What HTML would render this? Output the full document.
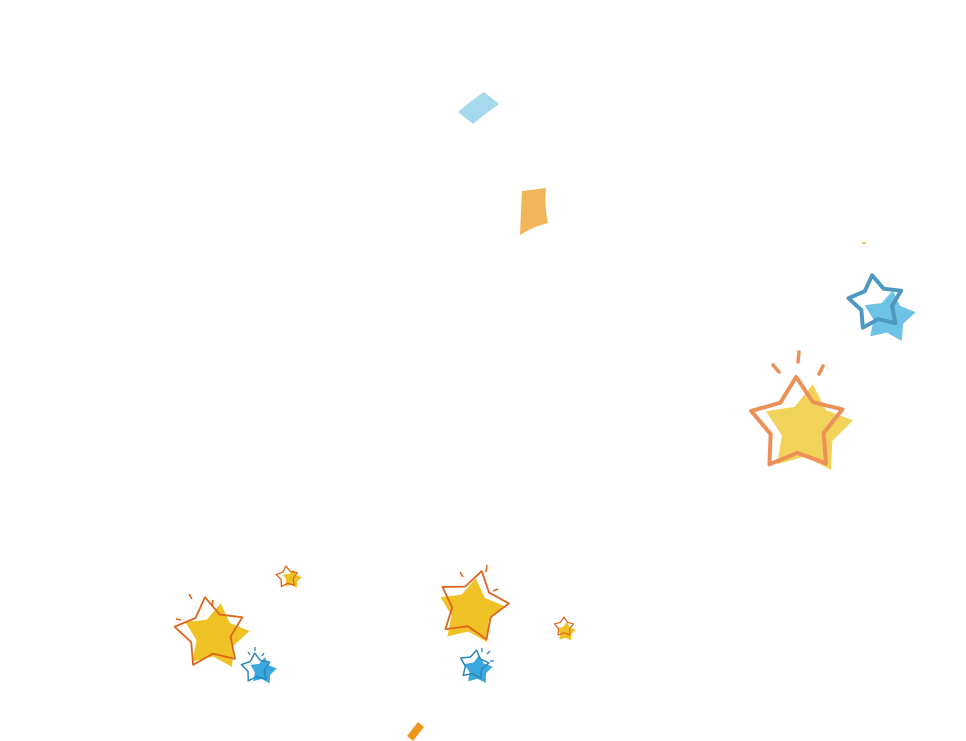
<!DOCTYPE html>
<html><head><meta charset="utf-8"><style>html,body{margin:0;padding:0;background:#fff;width:966px;height:741px;overflow:hidden}</style></head>
<body>
<svg width="966" height="741" viewBox="0 0 966 741" xmlns="http://www.w3.org/2000/svg">
<defs>
<polygon id="s" points="0,-1 0.341,-0.469 0.951,-0.309 0.552,0.179 0.588,0.809 0,0.58 -0.588,0.809 -0.552,0.179 -0.951,-0.309 -0.341,-0.469" stroke-linejoin="round"/>
</defs>
<path d="M458,112 Q472,100 484,92 L499,104 Q485,114 473,124 Z" fill="#a6d8ee"/>
<path d="M522,191 L546,188 Q544,205 548,223 Q532,227 520,235 Q521,212 522,191 Z" fill="#f3b55a"/>
<path d="M407,736 L418,722 L424,727 L413,741 Z" fill="#f0961c"/>
<rect x="862" y="242" width="4" height="2" fill="#f3c94a"/>

<use href="#s" transform="translate(808,430) rotate(6) scale(46)" fill="#f2d35a" stroke="none"/>
<use href="#s" transform="translate(797,425) rotate(-1) scale(48)" fill="none" stroke="#ec9058" stroke-width="0.083"/>
<g stroke="#ec9058" stroke-width="3.5" stroke-linecap="round"><line x1="799" y1="352" x2="798" y2="362"/><line x1="773" y1="365" x2="779" y2="372"/><line x1="823" y1="366" x2="819" y2="374"/></g>

<use href="#s" transform="translate(889,317) rotate(8) scale(27)" fill="#6cc3e6" stroke="none"/>
<use href="#s" transform="translate(876,303) rotate(-8) scale(28)" fill="none" stroke="#4d97c0" stroke-width="0.14"/>

<use href="#s" transform="translate(216,637) rotate(8) scale(34)" fill="#efc326" stroke="none"/>
<use href="#s" transform="translate(210,633) rotate(-8) scale(36)" fill="none" stroke="#e0641c" stroke-width="0.05"/>
<g stroke="#e0641c" stroke-width="1.5"><line x1="189" y1="594" x2="192" y2="599"/><line x1="213" y1="600" x2="212" y2="606"/><line x1="176" y1="619" x2="181" y2="620"/></g>

<use href="#s" transform="translate(263,671) rotate(8) scale(14)" fill="#3aa8dc" stroke="none"/>
<use href="#s" transform="translate(256,668) rotate(-5) scale(15)" fill="none" stroke="#2a86bb" stroke-width="0.1"/>
<g stroke="#2a86bb" stroke-width="1.3"><line x1="248" y1="652" x2="250" y2="655"/><line x1="255" y1="647" x2="255" y2="651"/><line x1="264" y1="653" x2="262" y2="656"/></g>

<use href="#s" transform="translate(292,579) rotate(8) scale(10)" fill="#efc326" stroke="none"/>
<use href="#s" transform="translate(287,577) rotate(-5) scale(11)" fill="none" stroke="#e0641c" stroke-width="0.12"/>

<use href="#s" transform="translate(471,612) rotate(8) scale(34)" fill="#efc326" stroke="none"/>
<use href="#s" transform="translate(473,606) rotate(14) scale(36)" fill="none" stroke="#e0641c" stroke-width="0.05"/>
<g stroke="#e0641c" stroke-width="1.5"><line x1="460" y1="572" x2="463" y2="577"/><line x1="487" y1="565" x2="486" y2="572"/><line x1="493" y1="591" x2="498" y2="589"/></g>

<use href="#s" transform="translate(478,670) rotate(5) scale(15)" fill="#3aa8dc" stroke="none"/>
<use href="#s" transform="translate(474,665) rotate(10) scale(15)" fill="none" stroke="#2a86bb" stroke-width="0.1"/>
<g stroke="#2a86bb" stroke-width="1.3"><line x1="482" y1="648" x2="482" y2="652"/><line x1="490" y1="651" x2="487" y2="654"/><line x1="490" y1="661" x2="494" y2="661"/></g>

<use href="#s" transform="translate(566,632) rotate(5) scale(10)" fill="#efc326" stroke="none"/>
<use href="#s" transform="translate(564,627) rotate(0) scale(10)" fill="none" stroke="#e0641c" stroke-width="0.12"/>
</svg>
</body></html>
